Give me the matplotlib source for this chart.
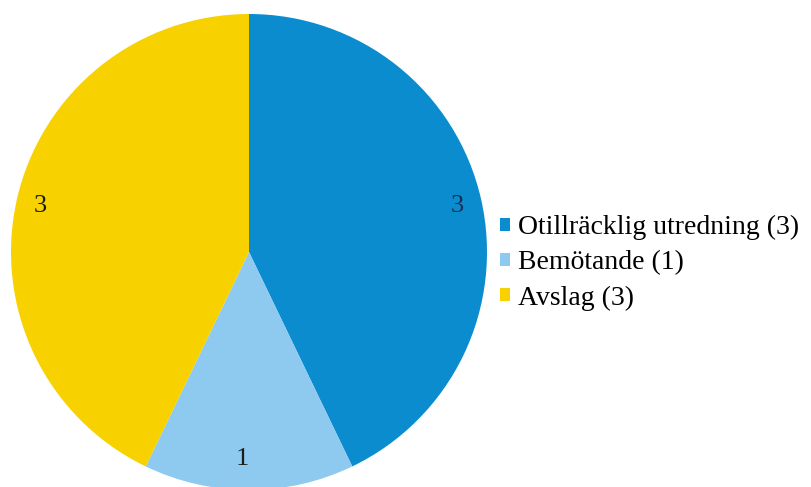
import matplotlib.pyplot as plt
from matplotlib.patches import Patch

categories = ["Otillräcklig utredning", "Bemötande", "Avslag"]
values = [3, 1, 3]
colors = ["#0a8ccf", "#8ec9ef", "#f7d200"]

plt.rcParams['font.family'] = ['Liberation Serif', 'DejaVu Serif']

fig = plt.figure(figsize=(8.12, 4.87), dpi=100)
# pie centre approx (249, 252) px, radius ~238 px
ax = fig.add_axes([11 / 812, (487 - 252 - 238) / 487, 476 / 812, 476 / 487])

wedges, texts = ax.pie(values, colors=colors, startangle=90, counterclock=False,
                       labels=[str(v) for v in values], labeldistance=0.87,
                       radius=1, wedgeprops=dict(linewidth=0),
                       textprops=dict(fontsize=19, color="#1c1c1c"))
texts[0].set_color("#1b2d55")
ax.set_xlim(-1, 1)
ax.set_ylim(-1, 1)
ax.set_aspect('equal')

handles = [Patch(facecolor=c, edgecolor='none') for c in colors]
labels = [f"{c} ({v})" for c, v in zip(categories, values)]
fig.legend(handles, labels, loc='center left', bbox_to_anchor=(500 / 812, (487 - 263) / 487),
           frameon=False, fontsize=20, borderpad=0, borderaxespad=0,
           handlelength=0.36, handleheight=0.36, handletextpad=0.3, labelspacing=0.36)

fig.savefig("out.png", dpi=100)
